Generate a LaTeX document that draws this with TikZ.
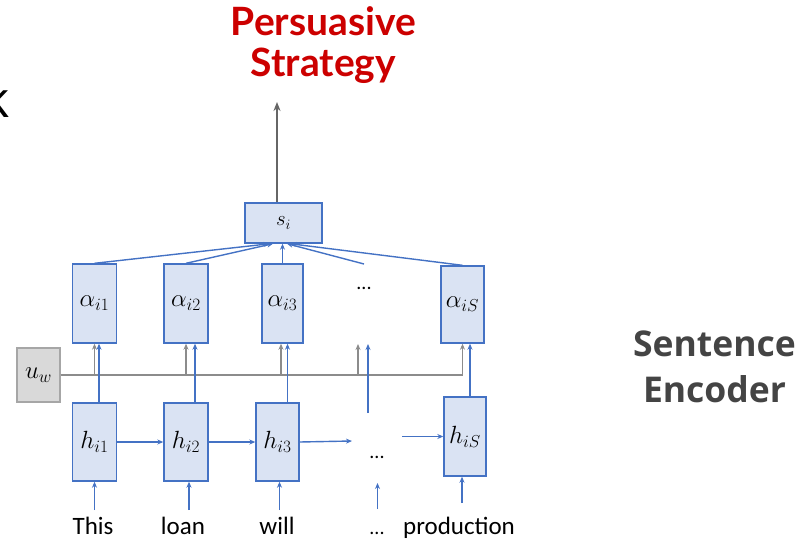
\documentclass[tikz,border=0pt]{standalone}
\usepackage{fontspec}
\usetikzlibrary{arrows.meta,calc}
\newfontfamily\titlefont{Lato}
\newfontfamily\headfont{Open Sans}
\newfontfamily\wordfont{Carlito}

\definecolor{boxblue}{HTML}{4472C4}
\definecolor{boxfill}{HTML}{DAE3F3}
\definecolor{titlered}{HTML}{CC0000}
\definecolor{labelgray}{HTML}{444444}
\definecolor{linegray}{HTML}{8C8C8C}
\definecolor{outgray}{HTML}{666666}
\definecolor{uwfill}{HTML}{D9D9D9}
\definecolor{uwdraw}{HTML}{A6A6A6}

\begin{document}
\begin{tikzpicture}[x=1pt,y=-1pt,
  cell/.style={draw=boxblue, fill=boxfill, line width=1.4pt, inner sep=0pt,
               font=\fontsize{23}{24}\selectfont},
  barr/.style={draw=boxblue, line width=1.4pt, -{Stealth[length=6pt,width=5pt]}},
  garr/.style={draw=linegray, line width=1.4pt, -{Stealth[length=6pt,width=5pt]}},
  gline/.style={draw=linegray, line width=2.8pt},
  word/.style={font=\wordfont\fontsize{25}{28}\selectfont, anchor=base, inner sep=0pt},
  dots/.style={font=\wordfont\fontsize{20}{22}\selectfont, inner sep=0pt},
  titleline/.style={font=\titlefont\bfseries\fontsize{39}{41}\selectfont,
                    text=titlered, anchor=base, inner sep=0pt},
  sideline/.style={font=\headfont\bfseries\fontsize{35.5}{40}\selectfont,
                   text=labelgray, anchor=base, inner sep=0pt},
]
\useasboundingbox (0,0) rectangle (811,538);

% clipped letter at the left edge
\node[font=\headfont\fontsize{50}{50}\selectfont, anchor=base east, inner sep=0pt] (cut) at (10,117) {k};

% output label
\node[titleline] (t1) at (323.5,35) {Persuasive};
\node[titleline] (t2) at (323.5,76) {Strategy};
\coordinate (ptip) at (277,102);

% side label
\node[sideline] (e1) at (714.5,356) {Sentence};
\node[sideline] (e2) at (714.5,402.5) {Encoder};

% sentence vector
\node[cell, minimum width=77pt, minimum height=40pt, font=\fontsize{22}{24}\selectfont] (si) at (283.5,223) {$s_i$};

% attention weights
\node[cell, minimum width=43.6pt, minimum height=79pt] (a1) at (94.5,303.5) {$\alpha_{i1}$};
\node[cell, minimum width=44pt, minimum height=79pt] (a2) at (186,303.5) {$\alpha_{i2}$};
\node[cell, minimum width=41pt, minimum height=79pt] (a3) at (282.5,303.5) {$\alpha_{i3}$};
\node[dots] (ad) at (364,288) {...};
\node[cell, minimum width=43pt, minimum height=77pt] (aS) at (462.5,304.5) {$\alpha_{iS}$};

% context vector
\node[draw=uwdraw, fill=uwfill, line width=1.4pt, inner sep=0pt,
      minimum width=43pt, minimum height=54pt, font=\fontsize{24}{24}\selectfont]
      (uw) at (38.5,375) {$u_w$};

% hidden states
\node[cell, minimum width=43.6pt, minimum height=78pt] (h1) at (94.5,442) {$h_{i1}$};
\node[cell, minimum width=44pt, minimum height=78pt] (h2) at (186,442) {$h_{i2}$};
\node[cell, minimum width=43pt, minimum height=78pt] (h3) at (277.5,442) {$h_{i3}$};
\node[dots] (hd) at (377,457) {...};
\node[cell, minimum width=42pt, minimum height=79pt] (hS) at (465,436.5) {$h_{iS}$};

% input words
\node[word] (w1) at (93,534) {This};
\node[word] (w2) at (183,534) {loan};
\node[word] (w3) at (277,534) {will};
\node[word, font=\wordfont\fontsize{20}{22}\selectfont] (wd) at (377,534) {...};
\node[word] (wS) at (459,534) {production};

% free ends of the open connectors
\coordinate (h3out) at (352,441);
\coordinate (hSin) at (402,436.5);
\coordinate (dlow) at (368,413);
\coordinate (dtop) at (368,344);
\coordinate (gdtop) at (358,344);
\coordinate (dwlow) at (377.5,509);
\coordinate (dwtop) at (377.5,483);
\coordinate (adtop) at (364,264);

% words -> hidden states
\draw[barr] (h1.south |- 0,510) -- (h1.south);
\draw[barr] ([xshift=3pt]h2.south |- 0,510) -- ([xshift=3pt]h2.south);
\draw[barr] ([xshift=2pt]h3.south |- 0,510) -- ([xshift=2pt]h3.south);
\draw[barr] (dwlow) -- (dwtop);
\draw[barr] ([xshift=-3pt]hS.south |- 0,503) -- ([xshift=-3pt]hS.south);

% recurrent links
\draw[barr] (h1.east) -- (h2.west);
\draw[barr] (h2.east) -- (h3.west);
\draw[barr] (h3.east) -- (h3out);
\draw[barr] (hSin) -- (hS.west);

% context line and its arrows
\draw[gline] (uw.east) -- (uw.east -| aS.south);
\draw[garr] (a1.south |- uw.east) -- (a1.south);
\draw[garr] (a2.south |- uw.east) -- (a2.south);
\draw[garr] ([xshift=-1.5pt]a3.south |- uw.east) -- ([xshift=-1.5pt]a3.south);
\draw[garr] (gdtop |- uw.east) -- (gdtop);
\draw[garr] (aS.south |- uw.east) -- (aS.south);

% hidden states -> attention weights
\draw[barr] ([xshift=4.5pt]a1.south |- h1.north) -- ([xshift=4.5pt]a1.south);
\draw[barr] ([xshift=9pt]a2.south |- h2.north) -- ([xshift=9pt]a2.south);
\draw[barr] ([xshift=5pt]a3.south |- h3.north) -- ([xshift=5pt]a3.south);
\draw[barr] (dlow) -- (dtop);
\draw[barr] ([xshift=7.5pt]aS.south |- hS.north) -- ([xshift=7.5pt]aS.south);

% attention weights -> sentence vector
\draw[barr] (a1.north) -- ([xshift=-13.5pt]si.south);
\draw[barr] (a2.north) -- ([xshift=-10.5pt]si.south);
\draw[barr] (a3.north) -- (a3.north |- si.south);
\draw[barr] (adtop) -- ([xshift=3.5pt]si.south);
\draw[barr] (aS.north) -- ([xshift=6.5pt]si.south);

% sentence vector -> strategy
\draw[draw=outgray, line width=1.5pt, -{Stealth[length=9pt,width=7pt]}]
  ([xshift=-6.5pt]si.north) -- (ptip);
\end{tikzpicture}
\end{document}
